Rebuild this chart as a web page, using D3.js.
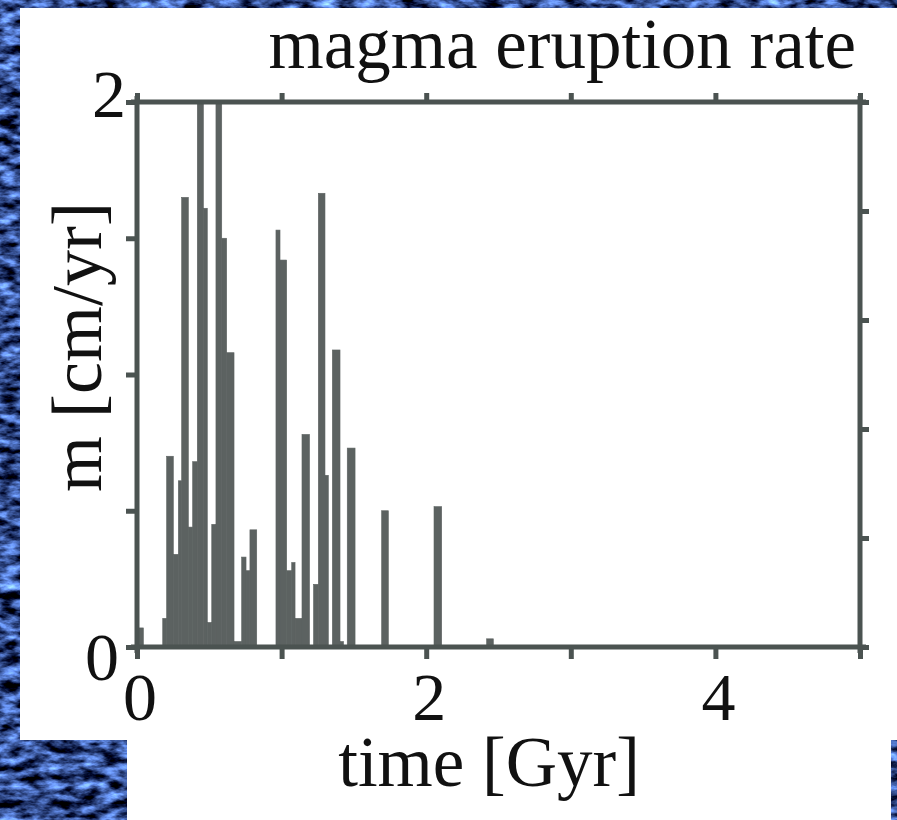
<!DOCTYPE html>
<html>
<head>
<meta charset="utf-8">
<script src="https://cdn.jsdelivr.net/npm/d3@7"></script>
<style>
  body { margin: 0; background: #22335c; }
  svg { display: block; }
</style>
</head>
<body>
<div id="viz-container"></div>
<script>
// step edges of the eruption-rate profile (Gyr) and the rate in each step (cm/yr)
const edges = [0.009, 0.044, 0.178, 0.205, 0.251, 0.286, 0.309, 0.355, 0.385, 0.417,
    0.459, 0.486, 0.517, 0.546, 0.586, 0.620, 0.671, 0.724, 0.754, 0.781, 0.828,
    0.961, 0.989, 1.035, 1.070, 1.093, 1.141, 1.193, 1.221, 1.254, 1.300, 1.323,
    1.351, 1.404, 1.428, 1.454, 1.508, 1.692, 1.738, 2.054, 2.107, 2.418, 2.464];
const rates = [0.07, 0, 0.105, 0.70, 0.34, 0.61, 1.65, 0.44, 0.68, 2.0,
    1.61, 0.09, 0.45, 2.0, 1.50, 1.08, 0.02, 0.33, 0.28, 0.43,
    0, 1.53, 1.42, 0.28, 0.31, 0.105, 0.78, 0, 0.23, 1.665,
    0.63, 0, 1.09, 0.02, 0, 0.73, 0, 0.50, 0, 0.515, 0, 0.03];

const xTicks = [0, 1, 2, 3, 4, 5];
const xTickLabels = [0, 2, 4];
const yTicksLeft = [0, 0.5, 1, 1.5, 2];
const yTicksRight = [0, 0.4, 0.8, 1.2, 1.6, 2];
const yTickLabels = [0, 2];

const W = 897, H = 820;
const axisColor = '#4b5351';
const barColor = '#5c6261';
const font = '"Liberation Serif", "Times New Roman", serif';

let svg = d3.select('#viz-container')
    .append('svg')
    .attr('width', W)
    .attr('height', H);

// textured blue backdrop
let defs = svg.append('defs');
let filt = defs.append('filter').attr('id', 'tex')
    .attr('x', 0).attr('y', 0).attr('width', '100%').attr('height', '100%')
    .attr('color-interpolation-filters', 'sRGB');
filt.append('feTurbulence')
    .attr('type', 'fractalNoise')
    .attr('baseFrequency', '0.05 0.11')
    .attr('numOctaves', 4)
    .attr('seed', 7)
    .attr('result', 'noise');
filt.append('feColorMatrix')
    .attr('in', 'noise')
    .attr('type', 'matrix')
    .attr('values', '1.2 0 0 0 -0.4  1.6 0 0 0 -0.5  2.3 0 0 0 -0.6  0 0 0 0 1');
svg.append('rect')
    .attr('width', W).attr('height', H)
    .attr('fill', '#22335c');
svg.append('rect')
    .attr('width', W).attr('height', H)
    .attr('filter', 'url(#tex)');

// white panels
svg.append('rect')
    .attr('x', 20).attr('y', 8)
    .attr('width', W - 20).attr('height', 732)
    .attr('fill', '#ffffff');
svg.append('rect')
    .attr('x', 127).attr('y', 739)
    .attr('width', 764).attr('height', H - 739)
    .attr('fill', '#ffffff');

let x = d3.scaleLinear().domain([0, 5]).range([137, 860]);
let y = d3.scaleLinear().domain([0, 2]).range([647, 102]);

// bars
let steps = rates.map((r, i) => ({t0: edges[i], t1: edges[i + 1], r: r}))
    .filter(d => d.r > 0);

svg.append('g').selectAll('rect').data(steps).enter()
    .append('rect')
    .attr('x', d => x(d.t0))
    .attr('width', d => x(d.t1) - x(d.t0))
    .attr('y', d => y(d.r))
    .attr('height', d => y(0) - y(d.r))
    .attr('fill', barColor)
    .attr('stroke', barColor)
    .attr('stroke-width', 0.6);

// axes: ticks only, the frame is drawn below
function styleAxis(g) {
    g.select('.domain').remove();
    g.selectAll('.tick line')
        .attr('stroke', axisColor)
        .attr('stroke-width', 5);
    g.selectAll('.tick text').remove();
}

svg.append('g')
    .attr('transform', `translate(0,${y(0)})`)
    .call(d3.axisBottom(x).tickValues(xTicks).tickSize(12))
    .call(styleAxis);
svg.append('g')
    .attr('transform', `translate(0,${y(2)})`)
    .call(d3.axisTop(x).tickValues(xTicks).tickSize(9))
    .call(styleAxis);
svg.append('g')
    .attr('transform', `translate(${x(0)},0)`)
    .call(d3.axisLeft(y).tickValues(yTicksLeft).tickSize(11))
    .call(styleAxis);
svg.append('g')
    .attr('transform', `translate(${x(5)},0)`)
    .call(d3.axisRight(y).tickValues(yTicksRight).tickSize(9))
    .call(styleAxis);

// frame with slight overshoot at the corners
let over = 6;
let frame = [
    [x(0) - over, y(0), x(5) + over, y(0)],
    [x(0) - over, y(2), x(5) + over, y(2)],
    [x(0), y(0) + over, x(0), y(2) - over],
    [x(5), y(0) + over, x(5), y(2) - over]
];
svg.append('g').selectAll('line').data(frame).enter()
    .append('line')
    .attr('x1', d => d[0]).attr('y1', d => d[1])
    .attr('x2', d => d[2]).attr('y2', d => d[3])
    .attr('stroke', axisColor)
    .attr('stroke-width', 5);

// tick labels
svg.append('g').selectAll('text').data(xTickLabels).enter()
    .append('text')
    .attr('x', d => x(d) + 3)
    .attr('y', 720)
    .attr('text-anchor', 'middle')
    .attr('font-family', font)
    .attr('font-size', 68)
    .attr('fill', '#111')
    .text(d => d);

svg.append('g').selectAll('text').data(yTickLabels).enter()
    .append('text')
    .attr('x', d => d == 2 ? 126 : 119)
    .attr('y', d => d == 2 ? y(d) + 15 : y(d) + 33)
    .attr('text-anchor', 'end')
    .attr('font-family', font)
    .attr('font-size', 68)
    .attr('fill', '#111')
    .text(d => d);

// titles
svg.append('text')
    .attr('x', 856)
    .attr('y', 68)
    .attr('text-anchor', 'end')
    .attr('font-family', font)
    .attr('font-size', 71)
    .attr('fill', '#111')
    .text('magma eruption rate');

svg.append('text')
    .attr('x', 489)
    .attr('y', 786)
    .attr('text-anchor', 'middle')
    .attr('font-family', font)
    .attr('font-size', 71)
    .attr('fill', '#111')
    .text('time [Gyr]');

svg.append('text')
    .attr('transform', 'translate(101,347) rotate(-90)')
    .attr('text-anchor', 'middle')
    .attr('font-family', font)
    .attr('font-size', 72)
    .attr('fill', '#111')
    .text('m [cm/yr]');
</script>
</body>
</html>
